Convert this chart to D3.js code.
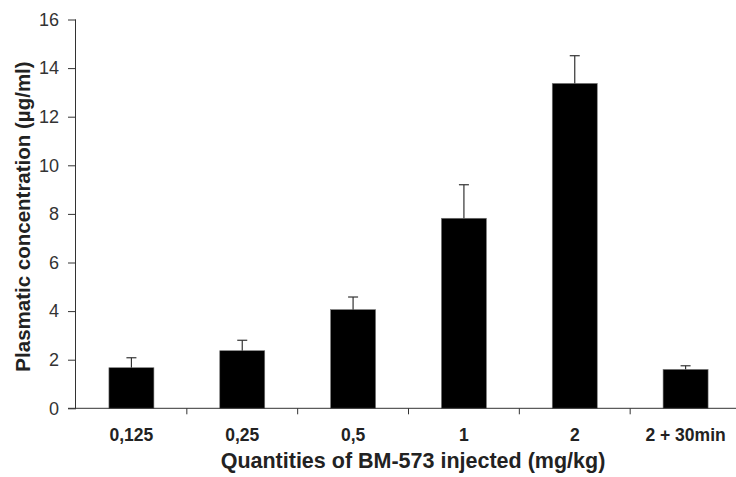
<!DOCTYPE html>
<html>
<head>
<meta charset="utf-8">
<script src="https://cdn.jsdelivr.net/npm/d3@7"></script>
<style>
  body { margin: 0; background: #fff; }
  text { font-family: "Liberation Sans", Arial, Helvetica, sans-serif; }
</style>
</head>
<body>
<div id="container"></div>
<script>
let w = 736;
let h = 477;

// dose groups and mean plasma concentration with SD
let doses = ["0,125", "0,25", "0,5", "1", "2", "2 + 30min"];
let means = [1.67, 2.37, 4.06, 7.82, 13.37, 1.6];
let errors = [0.41, 0.43, 0.52, 1.38, 1.14, 0.15];
let yTicks = [0, 2, 4, 6, 8, 10, 12, 14, 16];

let data = doses.map(function(d, i){
  return { dose: d, mean: means[i], err: errors[i] };
});

// plot box (note: "top" is taken by window.top)
let plotLeft = 76;
let plotRight = 741;
let plotTop = 19.5;
let plotBottom = 408.3;

let viz = d3.select("#container")
  .append("svg")
    .attr("width", w)
    .attr("height", h)
    .style("background-color", "white")
;

let xScale = d3.scaleBand()
  .domain(doses)
  .range([plotLeft, plotRight])
  .paddingInner(0.594)
  .paddingOuter(0.297)
;

let yScale = d3.scaleLinear().domain([0, 16]).range([plotBottom, plotTop]);

// bars
viz.selectAll(".bar").data(data).enter()
  .append("rect")
    .attr("class", "bar")
    .attr("x", function(d){ return xScale(d.dose); })
    .attr("y", function(d){ return yScale(d.mean); })
    .attr("width", xScale.bandwidth())
    .attr("height", function(d){ return yScale(0) - yScale(d.mean); })
    .attr("fill", "black")
    .attr("stroke", "#777")
    .attr("stroke-width", 0.6)
;

// error bars (upper only)
let errs = viz.selectAll(".err").data(data).enter()
  .append("g")
    .attr("class", "err")
    .attr("transform", function(d){
      return "translate(" + (xScale(d.dose) + xScale.bandwidth() / 2) + ",0)";
    })
;
errs.append("line")
  .attr("x1", 0).attr("x2", 0)
  .attr("y1", function(d){ return yScale(d.mean); })
  .attr("y2", function(d){ return yScale(d.mean + d.err); })
  .attr("stroke", "#333").attr("stroke-width", 1.2);
errs.append("line")
  .attr("x1", -5).attr("x2", 5)
  .attr("y1", function(d){ return yScale(d.mean + d.err); })
  .attr("y2", function(d){ return yScale(d.mean + d.err); })
  .attr("stroke", "#333").attr("stroke-width", 1.2);

// y axis
let yAxis = d3.axisLeft(yScale).tickValues(yTicks).tickSize(8).tickPadding(9);
let yAxisGroup = viz.append("g").attr("class", "yaxis")
  .attr("transform", "translate(" + plotLeft + ",0)")
  .call(yAxis);
yAxisGroup.select(".domain").attr("d", "M-0.5," + plotTop + "V" + plotBottom).attr("stroke", "#333");
yAxisGroup.selectAll(".tick line").attr("stroke", "#333");
yAxisGroup.selectAll(".tick text")
  .attr("font-size", 18)
  .attr("fill", "#333")
  .style("font-family", "Liberation Sans, Arial, sans-serif");

// x axis: ticks sit between the categories
let xAxisGroup = viz.append("g").attr("class", "xaxis");
xAxisGroup.append("line")
  .attr("x1", plotLeft - 8).attr("x2", plotRight)
  .attr("y1", plotBottom).attr("y2", plotBottom)
  .attr("stroke", "#333");
xAxisGroup.selectAll(".sep").data(doses.slice(1)).enter()
  .append("line")
    .attr("class", "sep")
    .attr("x1", function(d){ return xScale(d) - xScale.step() * xScale.paddingInner() / 2; })
    .attr("x2", function(d){ return xScale(d) - xScale.step() * xScale.paddingInner() / 2; })
    .attr("y1", plotBottom).attr("y2", plotBottom + 6)
    .attr("stroke", "#333")
;
xAxisGroup.selectAll(".lab").data(doses).enter()
  .append("text")
    .attr("class", "lab")
    .attr("x", function(d){ return xScale(d) + xScale.bandwidth() / 2; })
    .attr("y", 441)
    .attr("text-anchor", "middle")
    .attr("font-size", 17.5)
    .attr("font-weight", "bold")
    .attr("fill", "#222")
    .text(function(d){ return d; })
;

// axis titles
viz.append("text")
  .attr("x", 413)
  .attr("y", 468)
  .attr("text-anchor", "middle")
  .attr("font-size", 21.5)
  .attr("font-weight", "bold")
  .attr("fill", "#222")
  .text("Quantities of BM-573 injected (mg/kg)");

viz.append("text")
  .attr("transform", "translate(30,216.5) rotate(-90)")
  .attr("text-anchor", "middle")
  .attr("font-size", 20.5)
  .attr("font-weight", "bold")
  .attr("fill", "#222")
  .text("Plasmatic concentration (µg/ml)");
</script>
</body>
</html>
